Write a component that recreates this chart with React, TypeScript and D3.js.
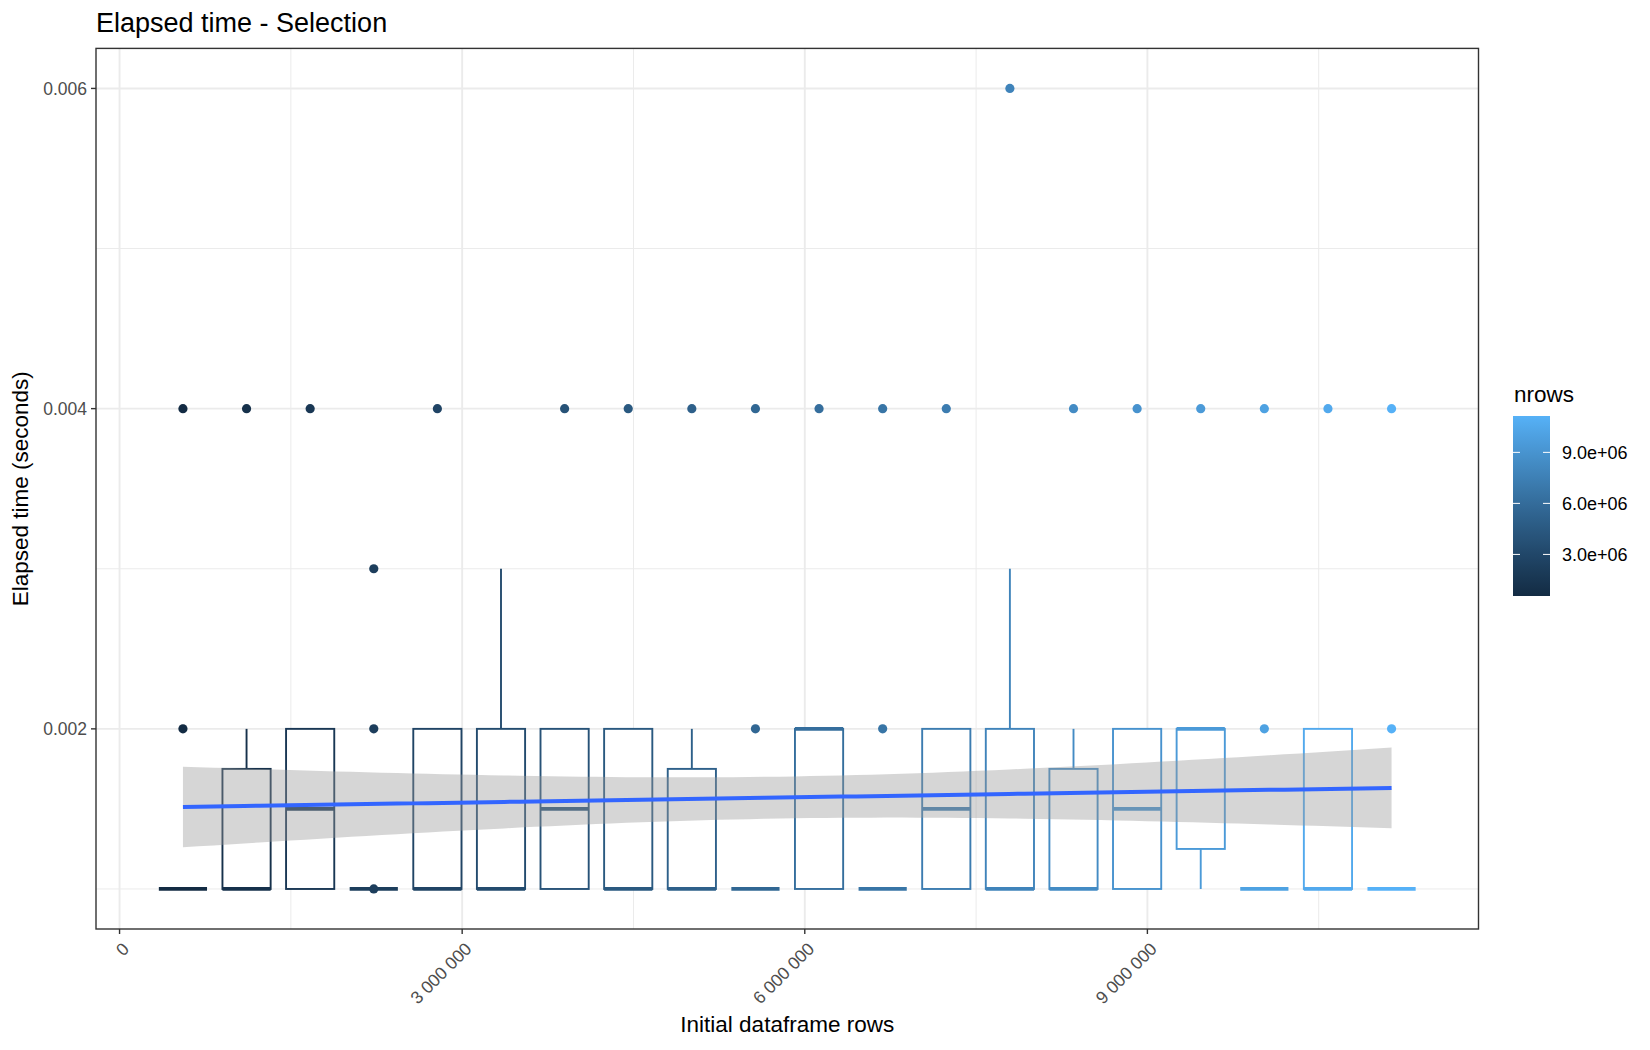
import React, { useRef, useEffect } from 'react';
import * as d3 from 'd3';

// Initial dataframe sizes (one box per size)
const nrows = [
    555000, 1112000, 1669000, 2226000, 2783000, 3340000, 3897000, 4454000, 5011000, 5568000,
    6125000, 6682000, 7239000, 7796000, 8353000, 8910000, 9467000, 10024000, 10581000, 11138000,
];

// Box statistics, elapsed seconds
const whiskerLow = [
    0.001, 0.001, 0.001, 0.001, 0.001, 0.001, 0.001, 0.001, 0.001, 0.001,
    0.001, 0.001, 0.001, 0.001, 0.001, 0.001, 0.001, 0.001, 0.001, 0.001,
];
const q1 = [
    0.001, 0.001, 0.001, 0.001, 0.001, 0.001, 0.001, 0.001, 0.001, 0.001,
    0.001, 0.001, 0.001, 0.001, 0.001, 0.001, 0.00125, 0.001, 0.001, 0.001,
];
const medians = [
    0.001, 0.001, 0.0015, 0.001, 0.001, 0.001, 0.0015, 0.001, 0.001, 0.001,
    0.002, 0.001, 0.0015, 0.001, 0.001, 0.0015, 0.002, 0.001, 0.001, 0.001,
];
const q3 = [
    0.001, 0.00175, 0.002, 0.001, 0.002, 0.002, 0.002, 0.002, 0.00175, 0.001,
    0.002, 0.001, 0.002, 0.002, 0.00175, 0.002, 0.002, 0.001, 0.002, 0.001,
];
const whiskerHigh = [
    0.001, 0.002, 0.002, 0.001, 0.002, 0.003, 0.002, 0.002, 0.002, 0.001,
    0.002, 0.001, 0.002, 0.003, 0.002, 0.002, 0.002, 0.001, 0.002, 0.001,
];
const outliers = [
    [0.002, 0.004], [0.004], [0.004], [0.001, 0.002, 0.003], [0.004],
    [], [0.004], [0.004], [0.004], [0.002, 0.004],
    [0.004], [0.002, 0.004], [0.004], [0.006], [0.004],
    [0.004], [0.004], [0.002, 0.004], [0.004], [0.002, 0.004],
];

// Linear fit (geom_smooth, method = "lm")
const fitIntercept = 0.0015058;
const fitSlope = 1.124e-11;
const fitHalfBandAtMean = 0.0001308;

const xTicks = [0, 3000000, 6000000, 9000000];
const xMinorTicks = [1500000, 4500000, 7500000, 10500000];
const yTicks = [0.002, 0.004, 0.006];
const yMinorTicks = [0.001, 0.003, 0.005];
const legendTicks = [3000000, 6000000, 9000000];

const boxWidth = 422000;

const ElapsedChart = () => {
    const svgRef = useRef(null);

    useEffect(() => {
        const svg = d3.select(svgRef.current);
        svg.selectAll("*").remove();

        const font = "'Liberation Sans', Arial, Helvetica, sans-serif";
        const left = 96, right = 1478.5, top = 48.4, bottom = 929;

        // ggplot-style 5% expansion around the box extents
        const xLo = d3.min(nrows) - boxWidth / 2;
        const xHi = d3.max(nrows) + boxWidth / 2;
        const xPad = (xHi - xLo) * 0.05;
        const x = d3.scaleLinear().domain([xLo - xPad, xHi + xPad]).range([left, right]);

        const yLo = 0.001, yHi = 0.006;
        const yPad = (yHi - yLo) * 0.05;
        const y = d3.scaleLinear().domain([yLo - yPad, yHi + yPad]).range([bottom, top]);

        const color = d3.scaleLinear<string>()
            .domain(d3.extent(nrows) as [number, number])
            .range(["#132B43", "#56B1F7"])
            .interpolate(d3.interpolateLab);

        // panel background + grid
        svg.append("rect")
            .attr("x", left).attr("y", top)
            .attr("width", right - left).attr("height", bottom - top)
            .attr("fill", "white");

        const grid = svg.append("g");
        grid.selectAll("line.ym")
            .data(yMinorTicks)
            .join("line")
            .attr("x1", left).attr("x2", right)
            .attr("y1", d => y(d)).attr("y2", d => y(d))
            .attr("stroke", "#EBEBEB").attr("stroke-width", 1);
        grid.selectAll("line.xm")
            .data(xMinorTicks)
            .join("line")
            .attr("y1", top).attr("y2", bottom)
            .attr("x1", d => x(d)).attr("x2", d => x(d))
            .attr("stroke", "#EBEBEB").attr("stroke-width", 1);
        grid.selectAll("line.yM")
            .data(yTicks)
            .join("line")
            .attr("x1", left).attr("x2", right)
            .attr("y1", d => y(d)).attr("y2", d => y(d))
            .attr("stroke", "#EBEBEB").attr("stroke-width", 1.9);
        grid.selectAll("line.xM")
            .data(xTicks)
            .join("line")
            .attr("y1", top).attr("y2", bottom)
            .attr("x1", d => x(d)).attr("x2", d => x(d))
            .attr("stroke", "#EBEBEB").attr("stroke-width", 1.9);

        // boxplots
        const boxes = svg.append("g")
            .selectAll("g")
            .data(nrows.map((n, i) => ({ n, i })))
            .join("g");

        boxes.append("line")
            .attr("x1", d => x(d.n)).attr("x2", d => x(d.n))
            .attr("y1", d => y(q3[d.i])).attr("y2", d => y(whiskerHigh[d.i]))
            .attr("stroke", d => color(d.n)).attr("stroke-width", 1.9);
        boxes.append("line")
            .attr("x1", d => x(d.n)).attr("x2", d => x(d.n))
            .attr("y1", d => y(q1[d.i])).attr("y2", d => y(whiskerLow[d.i]))
            .attr("stroke", d => color(d.n)).attr("stroke-width", 1.9);
        boxes.append("rect")
            .attr("x", d => x(d.n - boxWidth / 2))
            .attr("width", d => x(d.n + boxWidth / 2) - x(d.n - boxWidth / 2))
            .attr("y", d => y(q3[d.i]))
            .attr("height", d => y(q1[d.i]) - y(q3[d.i]))
            .attr("fill", "white")
            .attr("stroke", d => color(d.n)).attr("stroke-width", 1.9);
        boxes.append("line")
            .attr("x1", d => x(d.n - boxWidth / 2)).attr("x2", d => x(d.n + boxWidth / 2))
            .attr("y1", d => y(medians[d.i])).attr("y2", d => y(medians[d.i]))
            .attr("stroke", d => color(d.n)).attr("stroke-width", 3.8);
        boxes.selectAll("circle")
            .data(d => outliers[d.i].map(v => ({ n: d.n, v })))
            .join("circle")
            .attr("cx", d => x(d.n)).attr("cy", d => y(d.v))
            .attr("r", 4.6)
            .attr("fill", d => color(d.n));

        // lm fit with confidence band
        const xMean = d3.mean(nrows);
        const xVar = d3.mean(nrows, v => (v - xMean) ** 2);
        const xs = d3.range(80).map(k => d3.min(nrows) + (d3.max(nrows) - d3.min(nrows)) * k / 79);
        const fit = xs.map(v => {
            const mid = fitIntercept + fitSlope * v;
            const half = fitHalfBandAtMean * Math.sqrt(1 + (v - xMean) ** 2 / xVar);
            return { v, mid, lo: mid - half, hi: mid + half };
        });

        svg.append("path")
            .datum(fit)
            .attr("d", d3.area<any>().x(d => x(d.v)).y0(d => y(d.lo)).y1(d => y(d.hi)))
            .attr("fill", "#999999").attr("fill-opacity", 0.4);
        svg.append("path")
            .datum(fit)
            .attr("d", d3.line<any>().x(d => x(d.v)).y(d => y(d.mid)))
            .attr("fill", "none")
            .attr("stroke", "#3366FF").attr("stroke-width", 4);

        // panel border
        svg.append("rect")
            .attr("x", left).attr("y", top)
            .attr("width", right - left).attr("height", bottom - top)
            .attr("fill", "none")
            .attr("stroke", "#333333").attr("stroke-width", 1.4);

        // y axis
        const yAxis = svg.append("g");
        yAxis.selectAll("line")
            .data(yTicks)
            .join("line")
            .attr("x1", left - 5).attr("x2", left)
            .attr("y1", d => y(d)).attr("y2", d => y(d))
            .attr("stroke", "#333333").attr("stroke-width", 1.4);
        yAxis.selectAll("text")
            .data(yTicks)
            .join("text")
            .attr("x", left - 9).attr("y", d => y(d))
            .attr("dy", "0.35em")
            .attr("text-anchor", "end")
            .attr("font-family", font).attr("font-size", "17.5px")
            .attr("fill", "#4D4D4D")
            .text(d => d3.format(".3f")(d));

        // x axis
        const xAxis = svg.append("g");
        xAxis.selectAll("line")
            .data(xTicks)
            .join("line")
            .attr("x1", d => x(d)).attr("x2", d => x(d))
            .attr("y1", bottom).attr("y2", bottom + 5)
            .attr("stroke", "#333333").attr("stroke-width", 1.4);
        xAxis.selectAll("text")
            .data(xTicks)
            .join("text")
            .attr("transform", d => `translate(${x(d) + 1.5}, ${bottom + 12}) rotate(-45)`)
            .attr("text-anchor", "end")
            .attr("dominant-baseline", "hanging")
            .attr("font-family", font).attr("font-size", "17.5px")
            .attr("fill", "#4D4D4D")
            .text(d => d3.format(",")(d).replace(/,/g, " "));

        // titles
        svg.append("text")
            .attr("x", left).attr("y", 32)
            .attr("font-family", font).attr("font-size", "27px")
            .attr("fill", "black")
            .text("Elapsed time - Selection");
        svg.append("text")
            .attr("x", (left + right) / 2).attr("y", 1032)
            .attr("text-anchor", "middle")
            .attr("font-family", font).attr("font-size", "22.5px")
            .attr("fill", "black")
            .text("Initial dataframe rows");
        svg.append("text")
            .attr("transform", `translate(28, ${(top + bottom) / 2}) rotate(-90)`)
            .attr("text-anchor", "middle")
            .attr("font-family", font).attr("font-size", "22.5px")
            .attr("fill", "black")
            .text("Elapsed time (seconds)");

        // colour bar legend
        const barX = 1513, barW = 37;
        const [nMin, nMax] = d3.extent(nrows) as [number, number];
        const ly = d3.scaleLinear().domain([nMin, nMax]).range([596, 416]);

        const grad = svg.append("defs").append("linearGradient")
            .attr("id", "nrowsGrad")
            .attr("x1", 0).attr("y1", 1).attr("x2", 0).attr("y2", 0);
        grad.selectAll("stop")
            .data(d3.range(21))
            .join("stop")
            .attr("offset", k => `${k * 5}%`)
            .attr("stop-color", k => color(nMin + (nMax - nMin) * k / 20));

        svg.append("rect")
            .attr("x", barX).attr("y", ly(nMax))
            .attr("width", barW).attr("height", ly(nMin) - ly(nMax))
            .attr("fill", "url(#nrowsGrad)");

        const legend = svg.append("g");
        legend.selectAll("line.l")
            .data(legendTicks)
            .join("line")
            .attr("x1", barX).attr("x2", barX + 7)
            .attr("y1", d => ly(d)).attr("y2", d => ly(d))
            .attr("stroke", "white").attr("stroke-width", 1);
        legend.selectAll("line.r")
            .data(legendTicks)
            .join("line")
            .attr("x1", barX + barW - 7).attr("x2", barX + barW)
            .attr("y1", d => ly(d)).attr("y2", d => ly(d))
            .attr("stroke", "white").attr("stroke-width", 1);
        legend.selectAll("text")
            .data(legendTicks)
            .join("text")
            .attr("x", barX + barW + 12).attr("y", d => ly(d))
            .attr("dy", "0.35em")
            .attr("font-family", font).attr("font-size", "18px")
            .attr("fill", "black")
            .text(d => `${(d / 1e6).toFixed(1)}e+06`);
        svg.append("text")
            .attr("x", barX + 1).attr("y", 402)
            .attr("font-family", font).attr("font-size", "22.5px")
            .attr("fill", "black")
            .text("nrows");
    }, []);

    return (
        <svg ref={svgRef} width={1650} height={1050}
            style={{ position: "absolute", left: 0, top: 0, background: "white" }}></svg>
    );
};

export default function App() {
    return <ElapsedChart />;
}
